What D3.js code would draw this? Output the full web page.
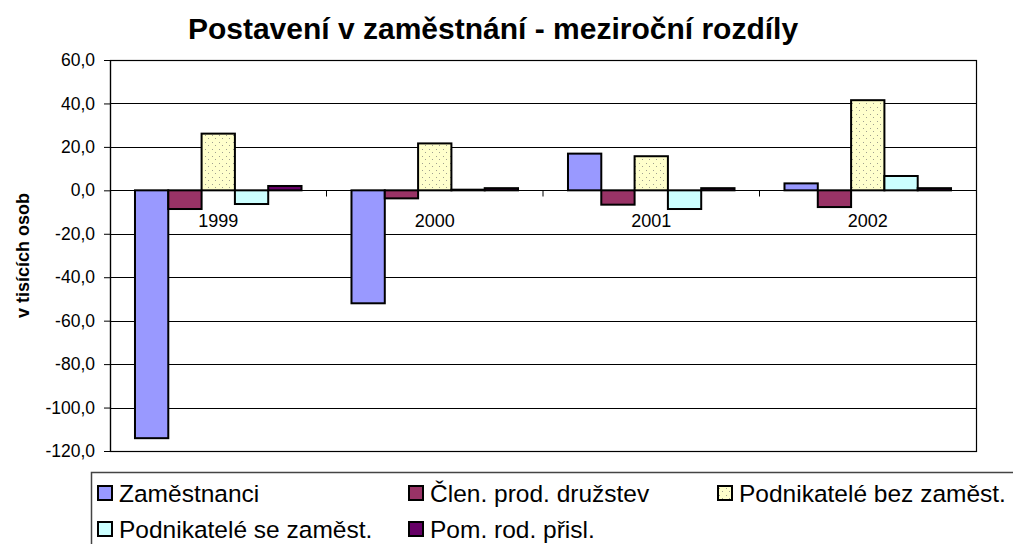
<!DOCTYPE html>
<html>
<head>
<meta charset="utf-8">
<script src="https://cdn.jsdelivr.net/npm/d3@7"></script>
<style>
  body { margin: 0; background: #fff; }
  svg { display: block; font-family: "Liberation Sans", Arial, sans-serif; }
</style>
</head>
<body>
<div id="chart"></div>
<script>
// data (thousands of persons, year-on-year change)
var years = ["1999", "2000", "2001", "2002"];
var seriesNames = ["Zaměstnanci", "Člen. prod. družstev", "Podnikatelé bez zaměst.",
                   "Podnikatelé se zaměst.", "Pom. rod. přisl."];
var zamestnanci = [-114.1, -52.0, 16.9, 3.2];
var clenDruzstev = [-8.6, -3.7, -6.6, -7.7];
var bezZamest = [26.1, 21.6, 15.7, 41.5];
var seZamest = [-6.3, 0.3, -8.6, 6.6];
var pomRod = [2.0, 1.0, 1.0, 1.0];
var yTicks = [-120, -100, -80, -60, -40, -20, 0, 20, 40, 60];

var seriesValues = [zamestnanci, clenDruzstev, bezZamest, seZamest, pomRod];
var colors = ["#9999FF", "#993366", "url(#dots)", "#CCFFFF", "#660066"];

var width = 1013, height = 544;
var plot = { left: 110, right: 976, top: 60, bottom: 451 };

var svg = d3.select("#chart").append("svg")
    .attr("width", width)
    .attr("height", height);

// dotted fill like the old excel pattern
var pat = svg.append("defs").append("pattern")
    .attr("id", "dots")
    .attr("patternUnits", "userSpaceOnUse")
    .attr("width", 7).attr("height", 7);
pat.append("rect").attr("width", 7).attr("height", 7).attr("fill", "#FFFFCC");
pat.append("rect").attr("x", 2).attr("y", 2).attr("width", 1).attr("height", 1).attr("fill", "#A0A090");
pat.append("rect").attr("x", 5).attr("y", 5).attr("width", 1).attr("height", 1).attr("fill", "#A0A090");

var x0 = d3.scaleBand().domain(years).range([plot.left, plot.right]);
var x1 = d3.scaleBand().domain(seriesNames).range([0, x0.bandwidth()]).paddingOuter(0.75);
var y = d3.scaleLinear().domain([-120, 60]).range([plot.bottom, plot.top]);

// gridlines
svg.append("g").selectAll("line")
    .data(yTicks)
    .enter().append("line")
    .attr("x1", plot.left).attr("x2", plot.right)
    .attr("y1", function(d){ return Math.round(y(d)) + 0.5; })
    .attr("y2", function(d){ return Math.round(y(d)) + 0.5; })
    .attr("stroke", "#000").attr("stroke-width", 1);

// plot frame
svg.append("rect")
    .attr("x", plot.left + 0.5).attr("y", plot.top + 0.5)
    .attr("width", plot.right - plot.left).attr("height", plot.bottom - plot.top)
    .attr("fill", "none").attr("stroke", "#000").attr("stroke-width", 1.2);

// bars
var rows = [];
years.forEach(function(yr, i){
    seriesNames.forEach(function(s, j){
        rows.push({ year: yr, series: s, idx: j, value: seriesValues[j][i] });
    });
});

svg.append("g").selectAll("rect")
    .data(rows)
    .enter().append("rect")
    .attr("x", function(d){ return x0(d.year) + x1(d.series); })
    .attr("y", function(d){ return y(Math.max(0, d.value)); })
    .attr("width", x1.bandwidth())
    .attr("height", function(d){ return Math.abs(y(d.value) - y(0)); })
    .attr("fill", function(d){ return colors[d.idx]; })
    .attr("stroke", "#000")
    .attr("stroke-width", 2);

// y axis
var yAxis = d3.axisLeft(y)
    .tickValues(yTicks)
    .tickSize(6)
    .tickSizeOuter(0)
    .tickPadding(9)
    .tickFormat(function(d){ return d3.format(".1f")(d).replace(".", ",").replace("−", "-"); });
var ga = svg.append("g")
    .attr("transform", "translate(" + plot.left + ",0)")
    .call(yAxis);
ga.selectAll("text").attr("font-size", 17.5).attr("fill", "#000")
    .attr("font-family", "Liberation Sans, Arial, sans-serif");
ga.selectAll("line").attr("stroke", "#000");
ga.select(".domain").attr("stroke", "#000").attr("stroke-width", 1.2);

// category axis along zero
var y0 = Math.round(y(0)) + 0.5;
svg.append("line")
    .attr("x1", plot.left).attr("x2", plot.right)
    .attr("y1", y0).attr("y2", y0)
    .attr("stroke", "#000").attr("stroke-width", 1.2);
svg.append("g").selectAll("line")
    .data(years.slice(1))
    .enter().append("line")
    .attr("x1", function(d){ return x0(d); })
    .attr("x2", function(d){ return x0(d); })
    .attr("y1", y0).attr("y2", y0 + 6)
    .attr("stroke", "#000");
svg.append("g").selectAll("text")
    .data(years)
    .enter().append("text")
    .attr("x", function(d){ return x0(d) + x0.bandwidth() / 2; })
    .attr("y", y0 + 36)
    .attr("text-anchor", "middle")
    .attr("font-size", 18)
    .text(function(d){ return d; });

// titles
svg.append("text")
    .attr("x", 493).attr("y", 39)
    .attr("text-anchor", "middle")
    .attr("font-size", 30).attr("font-weight", "bold")
    .text("Postavení v zaměstnání - meziroční rozdíly");

svg.append("text")
    .attr("transform", "translate(29," + ((plot.top + plot.bottom) / 2) + ") rotate(-90)")
    .attr("text-anchor", "middle")
    .attr("font-size", 18).attr("font-weight", "bold")
    .text("v tisících osob");

// legend
svg.append("rect")
    .attr("x", 91.5).attr("y", 472.5)
    .attr("width", 960).attr("height", 100)
    .attr("fill", "#fff").attr("stroke", "#444").attr("stroke-width", 1.5);

var legendCols = [97, 408, 717];
var legendRows = [493, 529];
var leg = svg.append("g").selectAll("g")
    .data(seriesNames)
    .enter().append("g")
    .attr("transform", function(d, i){
        return "translate(" + legendCols[i % 3] + "," + legendRows[Math.floor(i / 3)] + ")";
    });
leg.append("rect")
    .attr("x", 1).attr("y", -7)
    .attr("width", 14).attr("height", 14)
    .attr("fill", function(d, i){ return colors[i]; })
    .attr("stroke", "#000").attr("stroke-width", 2);
leg.append("text")
    .attr("x", 22).attr("y", 8.5)
    .attr("font-size", 24.5)
    .text(function(d){ return d; });
</script>
</body>
</html>
